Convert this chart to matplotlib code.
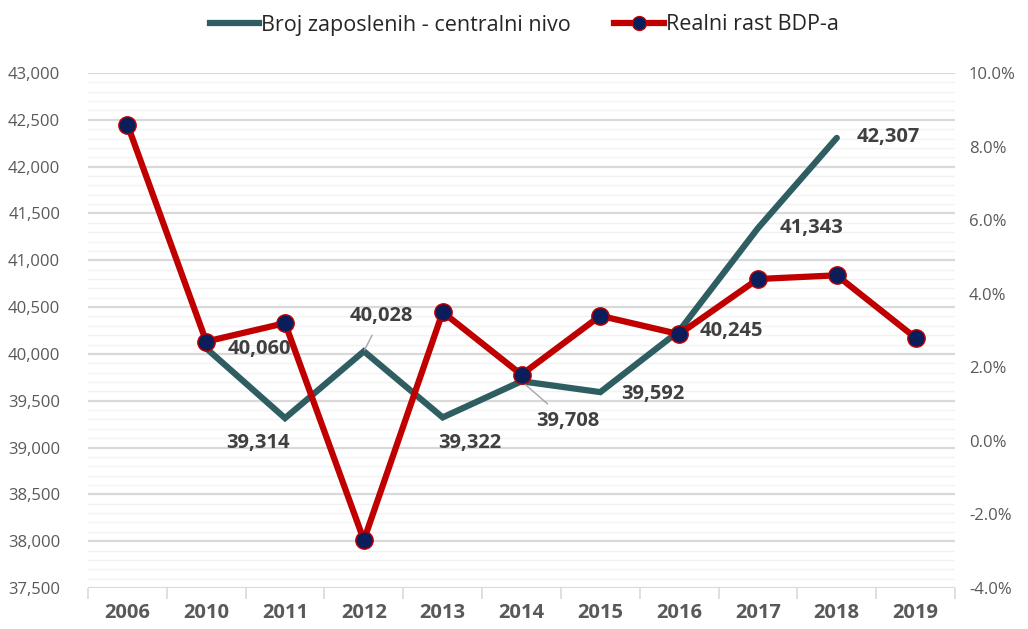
import numpy as np
import matplotlib
matplotlib.use("Agg")
import matplotlib.pyplot as plt
from matplotlib.ticker import MultipleLocator, FuncFormatter
from matplotlib.lines import Line2D

years = ["2006", "2010", "2011", "2012", "2013", "2014", "2015", "2016", "2017", "2018", "2019"]
employees = [np.nan, 40060, 39314, 40028, 39322, 39708, 39592, 40245, 41343, 42307, np.nan]
gdp_growth = [8.6, 2.7, 3.2, -2.7, 3.5, 1.8, 3.4, 2.9, 4.4, 4.5, 2.8]
emp_name = "Broj zaposlenih - centralni nivo"
gdp_name = "Realni rast BDP-a"

# label offsets in pixels (dx, dy) and whether a leader line is drawn
label_offsets = {1: (53, -1, False), 2: (-27, -25, False), 3: (18, 35, True), 4: (27, -26, False),
                 5: (46, -40, True), 6: (52, -2, False), 7: (52, 0, False), 8: (54, 0, False),
                 9: (51, 1, False)}

plt.rcParams['font.family'] = ['Open Sans', 'DejaVu Sans']

TEAL = "#2E5E62"
RED = "#C00000"
NAVY = "#0B1E5B"
GRID = "#D9D9D9"
MINOR = "#F2F2F2"
TXT = "#595959"
LBL = "#404040"

fig = plt.figure(figsize=(10.28, 6.29), dpi=100)
ax = fig.add_axes([88/1028, 1-588/629, (955-88)/1028, (588-73)/629])
ax2 = ax.twinx()

x = np.arange(len(years))
ax.set_xlim(-0.5, len(years)-0.5)
ax.set_ylim(37500, 43000)
ax2.set_ylim(-4, 10)

ax.yaxis.set_major_locator(MultipleLocator(500))
ax.yaxis.set_minor_locator(MultipleLocator(100))
ax.grid(axis='y', which='major', color=GRID, lw=1.6, zorder=0)
ax.grid(axis='y', which='minor', color=MINOR, lw=1.0, zorder=0)
ax.set_axisbelow(True)

ax.yaxis.set_major_formatter(FuncFormatter(lambda v, p: f"{v:,.0f}"))
ax2.yaxis.set_major_locator(MultipleLocator(2))
ax2.yaxis.set_major_formatter(FuncFormatter(lambda v, p: f"{v:.1f}%"))

for a in (ax, ax2):
    for s in a.spines.values():
        s.set_visible(False)
ax.tick_params(axis='y', which='both', length=0, labelsize=12, labelcolor=TXT, pad=20)
ax2.tick_params(axis='y', which='both', length=0, labelsize=12, labelcolor=TXT, pad=10)

ax.set_xticks(x)
ax.set_xticklabels(years, fontsize=14.5, fontweight='bold', color=TXT)
ax.set_xticks(np.arange(-0.5, len(years)), minor=True)
ax.tick_params(axis='x', which='major', length=0, pad=11)
ax.tick_params(axis='x', which='minor', length=8, color=GRID, width=1.2)

ax.plot(x, employees, color=TEAL, lw=4.5, solid_capstyle='round', solid_joinstyle='miter', zorder=3)
ax2.plot(x, gdp_growth, color=RED, lw=4.5, marker='o', markersize=12.5,
         markerfacecolor=NAVY, markeredgecolor=RED, markeredgewidth=1, zorder=4)

for i, (dx, dy, leader) in label_offsets.items():
    v = employees[i]
    ax.annotate(f"{v:,.0f}", xy=(x[i], v), xytext=(dx, dy), textcoords='offset pixels',
                ha='center', va='center', fontsize=14.5, fontweight='bold', color=LBL, zorder=6,
                arrowprops=(dict(arrowstyle='-', color='#A6A6A6', lw=1, shrinkA=5, shrinkB=1)
                            if leader else None))

handles = [Line2D([], [], color=TEAL, lw=4.5),
           Line2D([], [], color=RED, lw=4.5, marker='o', markersize=10,
                  markerfacecolor=NAVY, markeredgecolor=RED)]
fig.legend(handles, [emp_name, gdp_name], loc='center', bbox_to_anchor=(0.51, 1-25/629),
           ncol=2, frameon=False, fontsize=15.5, handlelength=2.3, handletextpad=0.1,
           columnspacing=2.0, labelcolor='#262626')

fig.savefig("out.png", dpi=100)
